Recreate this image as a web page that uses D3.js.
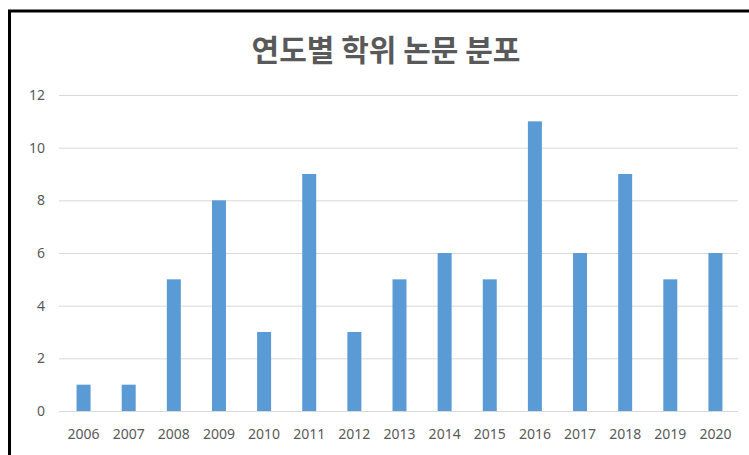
<!DOCTYPE html>
<html><head><meta charset="utf-8">
<script src="https://cdn.jsdelivr.net/npm/d3@7"></script>
<style>body{margin:0;background:#fff}svg{display:block}</style>
</head><body>
<svg id="c" width="749" height="455"></svg>
<script>
const title = "연도별 학위 논문 분포";
const years = ["2006","2007","2008","2009","2010","2011","2012","2013","2014","2015","2016","2017","2018","2019","2020"];
const counts = [1,1,5,8,3,9,3,5,6,5,11,6,9,5,6];
const yTicks = [0,2,4,6,8,10,12];

const svg = d3.select("#c");
const W = 749, H = 455;
const m = {left:61, right:11, top:95, bottom:44};
const x = d3.scaleBand().domain(years).range([m.left, W - m.right]).paddingInner(0.69).paddingOuter(0.345);
const y = d3.scaleLinear().domain([0,12]).range([H - m.bottom, m.top]);

// frame
svg.append("rect").attr("x",0).attr("y",0).attr("width",W).attr("height",H).attr("fill","#fff");
svg.append("line").attr("x1",9.5).attr("x2",9.5).attr("y1",10).attr("y2",H).attr("stroke","#000").attr("stroke-width",3);
svg.append("line").attr("x1",8).attr("x2",W).attr("y1",11).attr("y2",11).attr("stroke","#000").attr("stroke-width",3);

// gridlines
const yAxis = d3.axisLeft(y).tickValues(yTicks).tickSize(-(W - m.right - m.left + 2)).tickPadding(14);
const ga = svg.append("g").attr("transform",`translate(${m.left - 2},0)`).call(yAxis);
ga.select(".domain").remove();
ga.selectAll(".tick line").attr("stroke","#d9d9d9").attr("stroke-width",1);
ga.selectAll(".tick text").attr("fill","#595959").attr("font-size",14).attr("font-family","'Noto Sans', sans-serif");

// bars
svg.append("g").selectAll("rect").data(years).join("rect")
  .attr("x", d => x(d)).attr("width", x.bandwidth())
  .attr("y", (d,i) => y(counts[i])).attr("height", (d,i) => y(0) - y(counts[i]))
  .attr("fill","#5b9bd5");

// x axis
const xAxis = d3.axisBottom(x).tickSize(0).tickPadding(18);
const gx = svg.append("g").attr("transform",`translate(0,${y(0)})`).call(xAxis);
gx.select(".domain").remove();
gx.selectAll(".tick text").attr("fill","#595959").attr("font-size",14).attr("font-family","'Noto Sans', sans-serif");

// title
svg.append("text").attr("x",386).attr("y",61).attr("text-anchor","middle")
  .attr("font-family","'Noto Sans CJK KR', sans-serif").attr("font-weight",700).attr("font-size",30)
  .attr("fill","#595959").text(title);
</script>
</body></html>
